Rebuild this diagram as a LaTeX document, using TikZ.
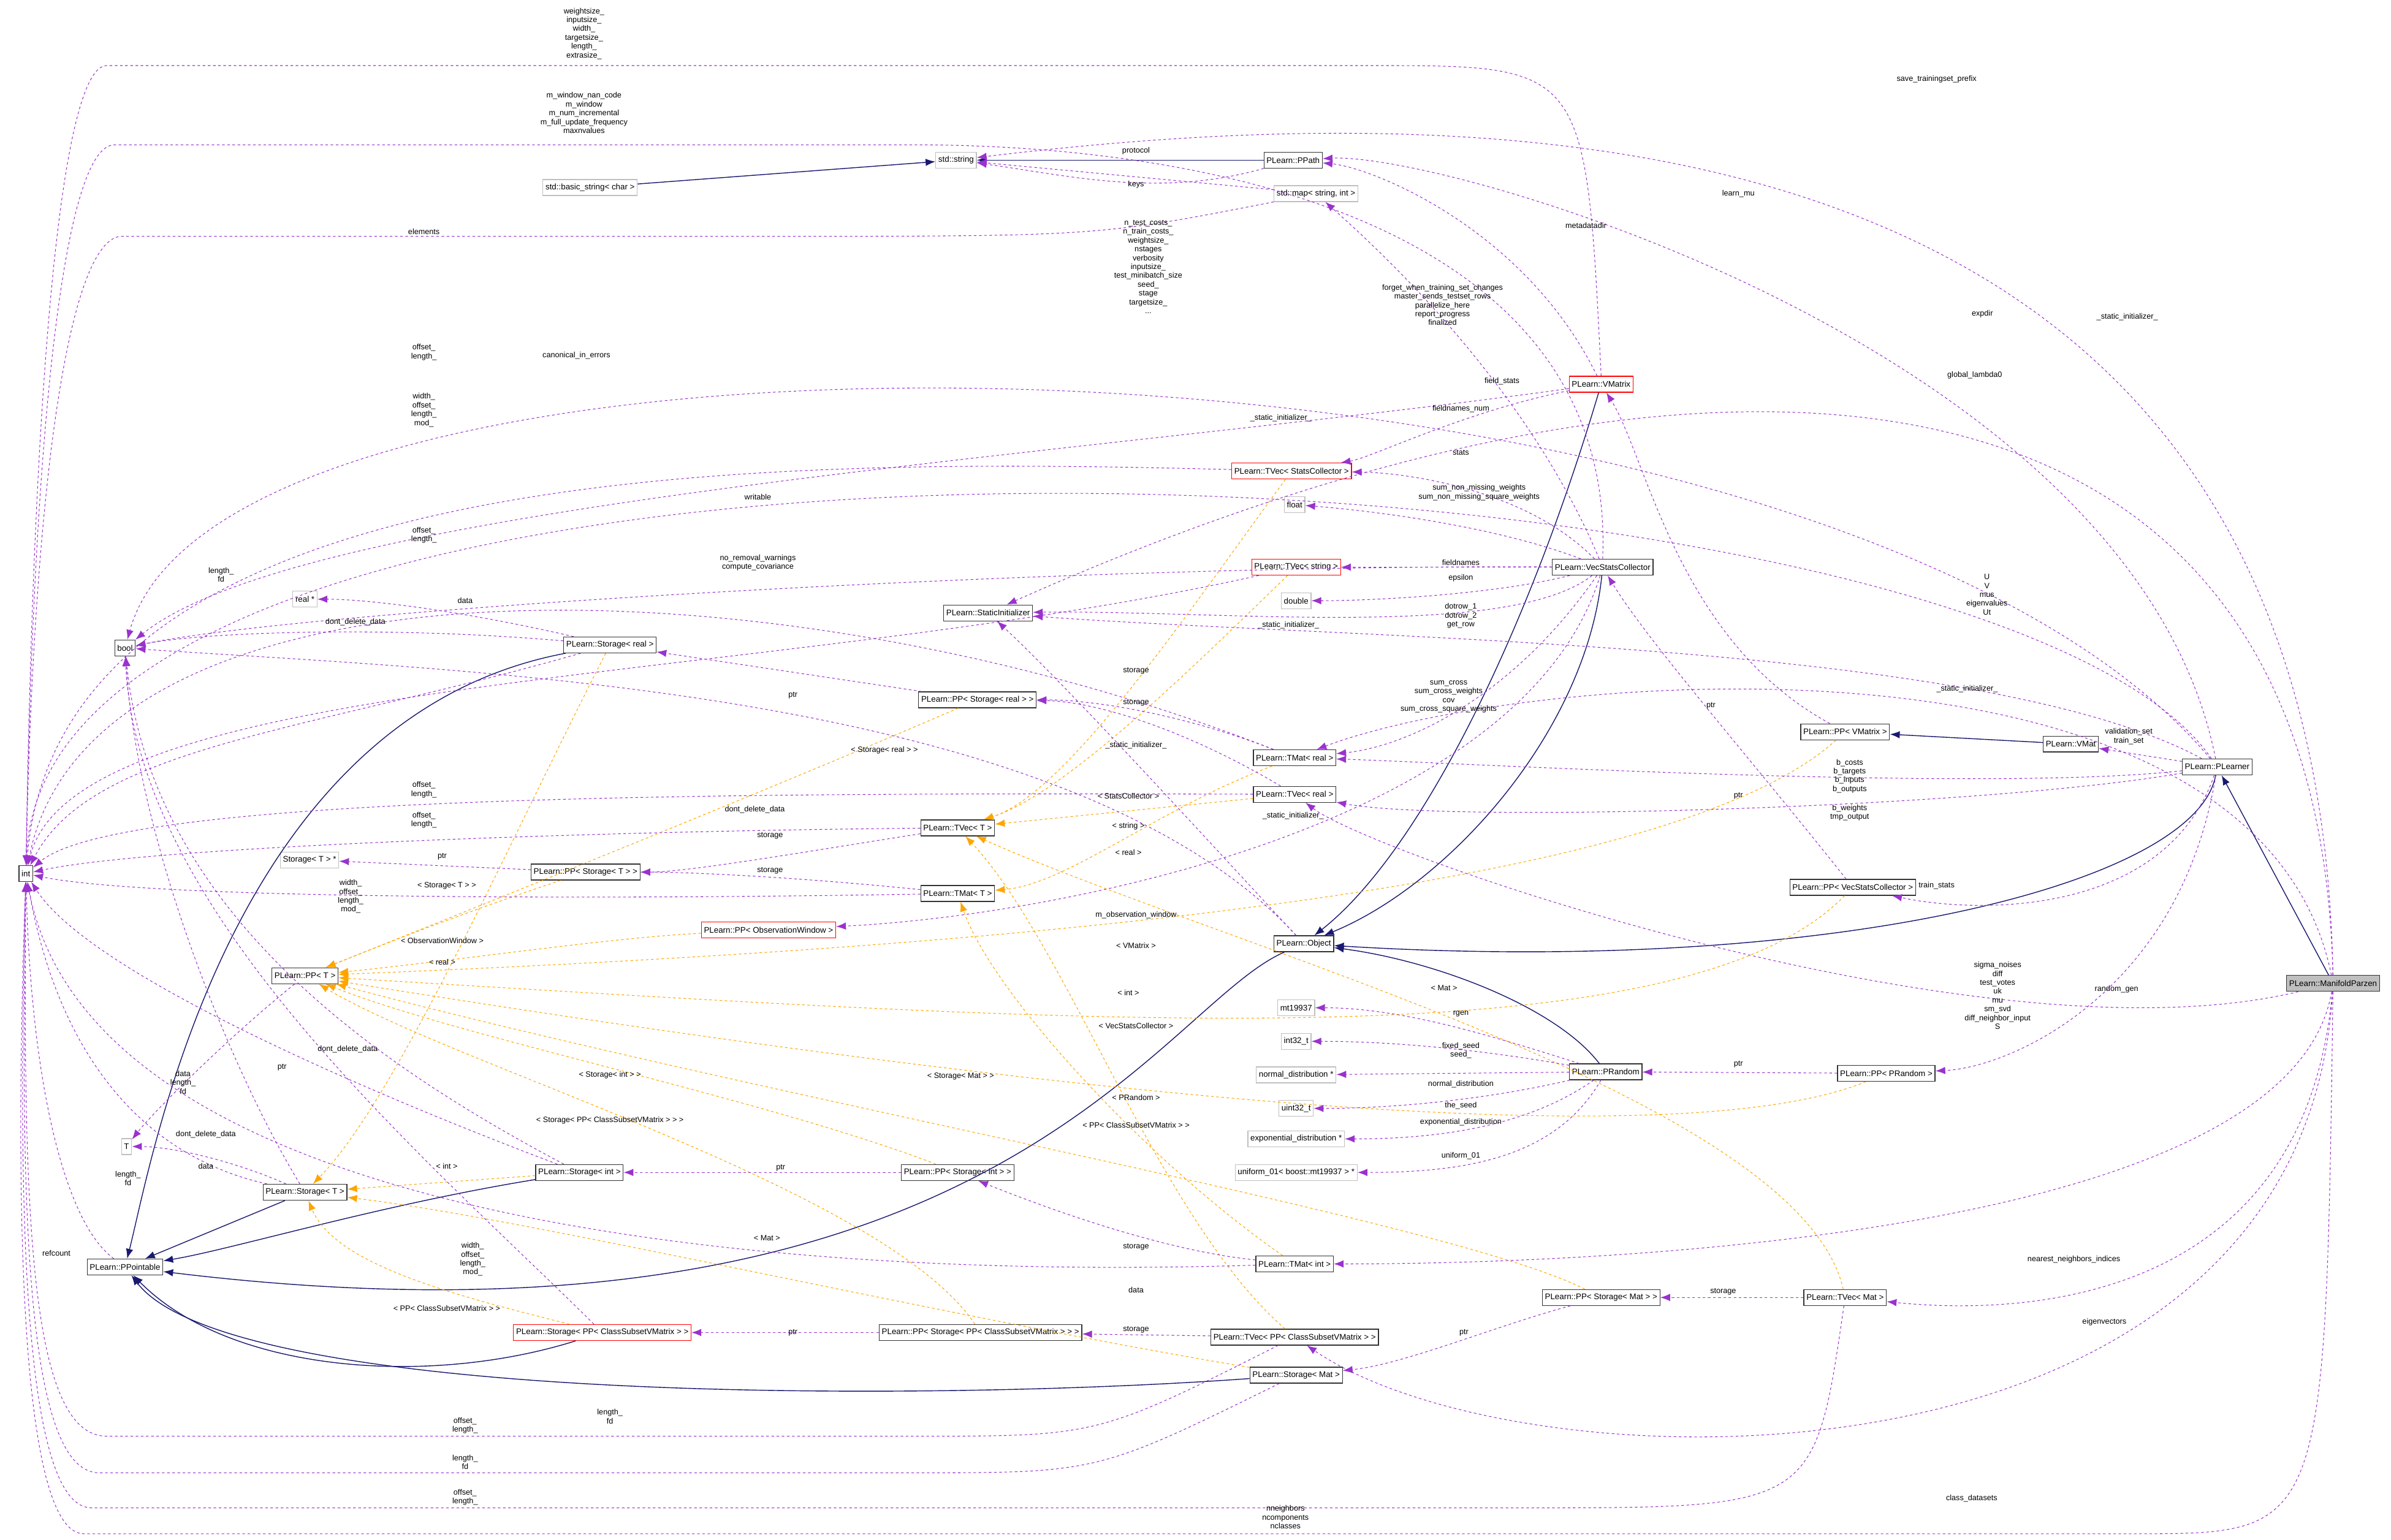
\documentclass[tikz,border=0pt]{standalone}
\usepackage{fontspec}
\setmainfont{Liberation Sans}
\usetikzlibrary{arrows.meta}
\definecolor{usecol}{HTML}{9A32CD}
\definecolor{tplcol}{HTML}{FFA500}
\definecolor{inhcol}{HTML}{191970}
\tikzset{
  box/.style={draw=black!80, line width=0.35pt, rectangle, inner sep=1.2pt, minimum height=0.26cm, font=\fontsize{3.8}{4.2}\selectfont},
  extbox/.style={box, draw=black!25},
  redbox/.style={box, draw=red},
  mainbox/.style={box, fill=black!25},
  lbl/.style={font=\fontsize{3.6}{4.1}\selectfont, align=center, inner sep=0pt},
  inh/.style={draw=inhcol, line width=0.4pt, -{Latex[length=1.6mm,width=1.2mm]}},
  use/.style={draw=usecol, line width=0.3pt, dashed, dash pattern=on 1.2pt off 1.2pt, -{Latex[length=1.6mm,width=1.2mm]}},
  tpl/.style={draw=tplcol, line width=0.3pt, dashed, dash pattern=on 1.2pt off 1.2pt, -{Latex[length=1.6mm,width=1.2mm]}}
}
\begin{document}
\begin{tikzpicture}[x=0.02488cm, y=-0.02488cm]
\useasboundingbox (0,0) rectangle (1568,1010);

% left column
\node (int) [box] at (17,573) {int};
\node (bool) [box] at (82,425) {bool};
\node (realp) [extbox] at (200,393) {real *};
\node (tt) [extbox] at (83,752) {T};
\node (storTp) [extbox] at (203,564) {Storage< T > *};
\node (ppT) [box] at (200,640) {PLearn::PP< T >};
\node (storT) [box] at (200,782) {PLearn::Storage< T >};
\node (ppoint) [box] at (82,831) {PLearn::PPointable};

% strings and maps
\node (str) [extbox] at (627,105) {std::string};
\node (bstr) [extbox] at (387,123) {std::basic\_string< char >};
\node (ppath) [box] at (848,105) {PLearn::PPath};
\node (map) [extbox] at (863,127) {std::map< string, int >};

% middle column
\node (statinit) [box] at (648,402) {PLearn::StaticInitializer};
\node (storreal) [box] at (400,423) {PLearn::Storage< real >};
\node (ppstorreal) [box] at (641,459) {PLearn::PP< Storage< real > >};
\node (tvecT) [box] at (628,543) {PLearn::TVec< T >};
\node (ppstorT) [box] at (384,572) {PLearn::PP< Storage< T > >};
\node (tmatT) [box] at (628,586) {PLearn::TMat< T >};
\node (ppobs) [redbox] at (504,610) {PLearn::PP< ObservationWindow >};
\node (storint) [box] at (380,769) {PLearn::Storage< int >};
\node (ppstorint) [box] at (628,769) {PLearn::PP< Storage< int > >};
\node (storcsv) [redbox] at (395,874) {PLearn::Storage< PP< ClassSubsetVMatrix > >};
\node (ppstorcsv) [box] at (643,874) {PLearn::PP< Storage< PP< ClassSubsetVMatrix > > >};

% right-middle column
\node (tvecsc) [redbox] at (847,309) {PLearn::TVec< StatsCollector >};
\node (float) [extbox] at (849,331) {float};
\node (tvecstr) [redbox] at (850,372) {PLearn::TVec< string >};
\node (double) [extbox] at (850,394) {double};
\node (tmatreal) [box] at (849,497) {PLearn::TMat< real >};
\node (tvecreal) [box] at (849,521) {PLearn::TVec< real >};
\node (object) [box] at (855,619) {PLearn::Object};
\node (mt) [extbox] at (850,661) {mt19937};
\node (i32) [extbox] at (850,683) {int32\_t};
\node (normd) [extbox] at (850,705) {normal\_distribution *};
\node (u32) [extbox] at (850,727) {uint32\_t};
\node (expd) [extbox] at (850,747) {exponential\_distribution *};
\node (unif) [extbox] at (850,769) {uniform\_01< boost::mt19937 > *};
\node (tmatint) [box] at (849,829) {PLearn::TMat< int >};
\node (tveccsv) [box] at (849,877) {PLearn::TVec< PP< ClassSubsetVMatrix > >};
\node (stormat) [box] at (850,902) {PLearn::Storage< Mat >};

% right columns
\node (vmatrix) [redbox] at (1050,252) {PLearn::VMatrix};
\node (vsc) [box] at (1051,372) {PLearn::VecStatsCollector};
\node (prandom) [box] at (1053,703) {PLearn::PRandom};
\node (ppstormat) [box] at (1050,851) {PLearn::PP< Storage< Mat > >};
\node (ppvm) [box] at (1210,480) {PLearn::PP< VMatrix >};
\node (ppvsc) [box] at (1215,582) {PLearn::PP< VecStatsCollector >};
\node (pprand) [box] at (1237,704) {PLearn::PP< PRandom >};
\node (tvecmat) [box] at (1210,851) {PLearn::TVec< Mat >};
\node (vmat) [box] at (1358,488) {PLearn::VMat};
\node (plearner) [box] at (1454,503) {PLearn::PLearner};
\node (mparzen) [mainbox] at (1530,645) {PLearn::ManifoldParzen};

% inheritance
\draw[inh] (bstr) -- (str);
\draw[inh] (ppath) -- (str);
\draw[inh] (vmatrix) .. controls (1000,420) and (930,560) .. (object);
\draw[inh] (vsc) .. controls (1040,480) and (950,580) .. (object);
\draw[inh] (plearner) .. controls (1440,580) and (1200,640) .. (object);
\draw[inh] (prandom) .. controls (1020,660) and (940,630) .. (object);
\draw[inh] (mparzen) -- (plearner);
\draw[inh] (vmat) -- (ppvm);
\draw[inh] (storreal) .. controls (150,470) and (100,760) .. (ppoint);
\draw[inh] (storint) .. controls (250,790) and (150,820) .. (ppoint);
\draw[inh] (storT) -- (ppoint);
\draw[inh] (storcsv) .. controls (280,910) and (150,900) .. (ppoint);
\draw[inh] (stormat) .. controls (600,920) and (150,920) .. (ppoint);
\draw[inh] (object) .. controls (760,660) and (650,900) .. (ppoint);

% template instances
\draw[tpl] (storreal) .. controls (330,560) and (260,720) .. (storT);
\draw[tpl] (ppstorreal) .. controls (500,520) and (300,600) .. (ppT);
\draw[tpl] (tvecsc) .. controls (780,400) and (700,520) .. (tvecT);
\draw[tpl] (tvecstr) .. controls (790,430) and (700,520) .. (tvecT);
\draw[tpl] (tvecreal) -- (tvecT);
\draw[tpl] (tmatreal) .. controls (760,530) and (700,580) .. (tmatT);
\draw[tpl] (ppstorT) .. controls (300,600) and (250,620) .. (ppT);
\draw[tpl] (ppobs) .. controls (400,615) and (300,630) .. (ppT);
\draw[tpl] (ppvm) .. controls (1100,580) and (700,620) .. (ppT);
\draw[tpl] (ppvsc) .. controls (1100,700) and (700,670) .. (ppT);
\draw[tpl] (pprand) .. controls (1100,760) and (700,720) .. (ppT);
\draw[tpl] (storint) -- (storT);
\draw[tpl] (ppstorint) .. controls (500,720) and (300,680) .. (ppT);
\draw[tpl] (tmatint) .. controls (750,760) and (650,650) .. (tmatT);
\draw[tpl] (ppstorcsv) .. controls (580,780) and (300,700) .. (ppT);
\draw[tpl] (storcsv) .. controls (300,850) and (220,830) .. (storT);
\draw[tpl] (tveccsv) .. controls (760,800) and (700,620) .. (tvecT);
\draw[tpl] (stormat) .. controls (600,860) and (350,800) .. (storT);
\draw[tpl] (ppstormat) .. controls (950,800) and (500,720) .. (ppT);
\draw[tpl] (tvecmat) .. controls (1180,720) and (800,620) .. (tvecT);

% usage
\draw[use] (map) -- (str);
\draw[use] (ppath) .. controls (760,130) and (700,115) .. (str);
\draw[use] (vmatrix) .. controls (1000,150) and (900,110) .. (ppath);
\draw[use] (vsc) .. controls (1000,250) and (900,160) .. (map);
\draw[use] (vmatrix) .. controls (960,270) and (900,300) .. (tvecsc);
\draw[use] (vsc) .. controls (1000,320) and (920,310) .. (tvecsc);
\draw[use] (vsc) .. controls (980,345) and (900,335) .. (float);
\draw[use] (vsc) -- (tvecstr);
\draw[use] (vsc) .. controls (980,390) and (900,394) .. (double);
\draw[use] (vsc) .. controls (990,420) and (800,400) .. (statinit);
\draw[use] (vsc) .. controls (990,460) and (920,490) .. (tmatreal);
\draw[use] (vsc) .. controls (1000,540) and (700,600) .. (ppobs);
\draw[use] (object) .. controls (800,560) and (700,450) .. (statinit);
\draw[use] (mparzen) .. controls (1520,200) and (1100,200) .. (statinit);
\draw[use] (plearner) .. controls (1300,420) and (900,420) .. (statinit);
\draw[use] (mparzen) .. controls (1520,70) and (1000,60) .. (str);
\draw[use] (plearner) .. controls (1400,230) and (950,100) .. (ppath);
\draw[use] (mparzen) .. controls (1480,400) and (1000,440) .. (tmatreal);
\draw[use] (plearner) .. controls (1300,520) and (950,500) .. (tmatreal);
\draw[use] (plearner) .. controls (1300,530) and (950,540) .. (tvecreal);
\draw[use] (mparzen) .. controls (1300,700) and (900,560) .. (tvecreal);
\draw[use] (plearner) -- (vmat);
\draw[use] (ppvm) .. controls (1100,420) and (1080,300) .. (vmatrix);
\draw[use] (plearner) .. controls (1420,600) and (1300,600) .. (ppvsc);
\draw[use] (ppvsc) .. controls (1150,500) and (1080,420) .. (vsc);
\draw[use] (plearner) .. controls (1430,650) and (1320,700) .. (pprand);
\draw[use] (pprand) -- (prandom);
\draw[use] (prandom) .. controls (980,680) and (920,661) .. (mt);
\draw[use] (prandom) .. controls (980,690) and (920,683) .. (i32);
\draw[use] (prandom) -- (normd);
\draw[use] (prandom) .. controls (980,720) and (920,727) .. (u32);
\draw[use] (prandom) .. controls (1000,740) and (940,747) .. (expd);
\draw[use] (prandom) .. controls (1020,760) and (960,769) .. (unif);
\draw[use] (mparzen) .. controls (1500,820) and (1000,829) .. (tmatint);
\draw[use] (mparzen) .. controls (1510,870) and (1300,860) .. (tvecmat);
\draw[use] (mparzen) .. controls (1510,990) and (1000,980) .. (tveccsv);
\draw[use] (tvecmat) -- (ppstormat);
\draw[use] (ppstormat) .. controls (980,870) and (920,895) .. (stormat);
\draw[use] (tveccsv) -- (ppstorcsv);
\draw[use] (ppstorcsv) -- (storcsv);
\draw[use] (tmatint) .. controls (760,820) and (680,790) .. (ppstorint);
\draw[use] (ppstorint) -- (storint);
\draw[use] (tmatreal) .. controls (780,470) and (720,459) .. (ppstorreal);
\draw[use] (tvecreal) .. controls (780,480) and (720,460) .. (ppstorreal);
\draw[use] (ppstorreal) -- (storreal);
\draw[use] (storreal) .. controls (300,400) and (240,393) .. (realp);
\draw[use] (storreal) .. controls (250,410) and (130,415) .. (bool);
\draw[use] (tvecT) .. controls (520,560) and (450,572) .. (ppstorT);
\draw[use] (tmatT) .. controls (520,575) and (450,572) .. (ppstorT);
\draw[use] (ppstorT) -- (storTp);
\draw[use] (ppT) .. controls (150,680) and (100,730) .. (tt);
\draw[use] (storT) .. controls (150,760) and (110,752) .. (tt);
\draw[use] (storT) .. controls (150,700) and (90,550) .. (bool);
\draw[use] (storint) .. controls (250,700) and (100,600) .. (bool);
\draw[use] (storcsv) .. controls (280,760) and (90,600) .. (bool);
\draw[use] (object) .. controls (700,450) and (300,440) .. (bool);
\draw[use] (vmatrix) .. controls (700,300) and (200,330) .. (bool);
\draw[use] (vsc) .. controls (700,370) and (200,400) .. (bool);
\draw[use] (plearner) .. controls (1200,200) and (150,180) .. (bool);
% edges to int
\draw[use] (vmatrix.north) .. controls (1040,43) .. (900,43) -- (70,43) .. controls (40,43) and (22,250) .. (int);
\draw[use] (vsc.north) .. controls (1060,150) and (800,95) .. (600,95) -- (75,95) .. controls (42,95) and (22,280) .. (int);
\draw[use] (map) .. controls (720,155) .. (500,155) -- (80,155) .. controls (45,155) and (22,320) .. (int);
\draw[use] (plearner) .. controls (1300,280) and (30,230) .. (int);
\draw[use] (tvecsc) .. controls (500,300) and (40,300) .. (int);
\draw[use] (tmatreal) .. controls (500,360) and (60,360) .. (int);
\draw[use] (tvecstr) .. controls (500,450) and (50,440) .. (int);
\draw[use] (storreal) .. controls (200,480) and (60,490) .. (int);
\draw[use] (tvecreal) .. controls (500,520) and (80,520) .. (int);
\draw[use] (tvecT) .. controls (400,545) and (100,555) .. (int);
\draw[use] (tmatT) .. controls (400,590) and (100,590) .. (int);
\draw[use] (storT) .. controls (100,760) and (40,700) .. (int);
\draw[use] (storint) .. controls (250,720) and (60,640) .. (int);
\draw[use] (tmatint) .. controls (500,840) and (60,800) .. (int);
\draw[use] (ppoint) .. controls (40,800) and (20,700) .. (int);
\draw[use] (tveccsv) .. controls (720,942) .. (600,942) -- (70,942) .. controls (20,942) and (15,800) .. (int);
\draw[use] (stormat) .. controls (720,966) .. (600,966) -- (65,966) .. controls (18,966) and (13,800) .. (int);
\draw[use] (tvecmat) .. controls (1190,989) .. (1000,989) -- (60,989) .. controls (16,989) and (11,800) .. (int);
\draw[use] (mparzen) .. controls (1525,1006) .. (1400,1006) -- (55,1006) .. controls (14,1006) and (9,800) .. (int);

% labels
\node (l1) [lbl] at (383,22) {weightsize\_\\inputsize\_\\width\_\\targetsize\_\\length\_\\extrasize\_};
\node (l2) [lbl] at (383,74) {m\_window\_nan\_code\\m\_window\\m\_num\_incremental\\m\_full\_update\_frequency\\maxnvalues};
\node (l3) [lbl] at (278,152) {elements};
\node (l4) [lbl] at (278,231) {offset\_\\length\_};
\node (l5) [lbl] at (378,233) {canonical\_in\_errors};
\node (l6) [lbl] at (278,269) {width\_\\offset\_\\length\_\\mod\_};
\node (l7) [lbl] at (497,326) {writable};
\node (l8) [lbl] at (278,351) {offset\_\\length\_};
\node (l9) [lbl] at (497,369) {no\_removal\_warnings\\compute\_covariance};
\node (l10) [lbl] at (145,377) {length\_\\fd};
\node (l11) [lbl] at (745,99) {protocol};
\node (l12) [lbl] at (745,121) {keys};
\node (l13) [lbl] at (1270,52) {save\_trainingset\_prefix};
\node (l14) [lbl] at (1140,127) {learn\_mu};
\node (l15) [lbl] at (1040,148) {metadatadir};
\node (l16) [lbl] at (753,175) {n\_test\_costs\_\\n\_train\_costs\_\\weightsize\_\\nstages\\verbosity\\inputsize\_\\test\_minibatch\_size\\seed\_\\stage\\targetsize\_\\...};
\node (l17) [lbl] at (946,200) {forget\_when\_training\_set\_changes\\master\_sends\_testset\_rows\\parallelize\_here\\report\_progress\\finalized};
\node (l18) [lbl] at (1395,208) {\_static\_initializer\_};
\node (l19) [lbl] at (1300,206) {expdir};
\node (l20) [lbl] at (1295,246) {global\_lambda0};
\node (l21) [lbl] at (985,250) {field\_stats};
\node (l22) [lbl] at (840,274) {\_static\_initializer\_};
\node (l23) [lbl] at (958,268) {fieldnames\_num};
\node (l24) [lbl] at (958,297) {stats};
\node (l25) [lbl] at (970,323) {sum\_non\_missing\_weights\\sum\_non\_missing\_square\_weights};
\node (l26) [lbl] at (958,369) {fieldnames};
\node (l27) [lbl] at (958,379) {epsilon};
\node (l28) [lbl] at (845,410) {\_static\_initializer\_};
\node (l29) [lbl] at (958,404) {dotrow\_1\\dotrow\_2\\get\_row};
\node (l30) [lbl] at (1303,390) {U\\V\\mus\\eigenvalues\\Ut};
\node (l31) [lbl] at (1290,452) {\_static\_initializer\_};
\node (l32) [lbl] at (950,457) {sum\_cross\\sum\_cross\_weights\\cov\\sum\_cross\_square\_weights};
\node (l33) [lbl] at (1122,463) {ptr};
\node (l34) [lbl] at (1140,522) {ptr};
\node (l35) [lbl] at (1396,483) {validation\_set\\train\_set};
\node (l36) [lbl] at (1213,509) {b\_costs\\b\_targets\\b\_inputs\\b\_outputs};
\node (l37) [lbl] at (1213,533) {b\_weights\\tmp\_output};
\node (l38) [lbl] at (1270,581) {train\_stats};
\node (l39) [lbl] at (1310,653) {sigma\_noises\\diff\\test\_votes\\uk\\mu\\sm\_svd\\diff\_neighbor\_input\\S};
\node (l40) [lbl] at (1388,649) {random\_gen};
\node (l41) [lbl] at (1140,698) {ptr};
\node (l42) [lbl] at (958,665) {rgen};
\node (l43) [lbl] at (958,689) {fixed\_seed\\seed\_};
\node (l44) [lbl] at (958,711) {normal\_distribution};
\node (l45) [lbl] at (958,725) {the\_seed};
\node (l46) [lbl] at (958,736) {exponential\_distribution};
\node (l47) [lbl] at (958,758) {uniform\_01};
\node (l48) [lbl] at (1360,826) {nearest\_neighbors\_indices};
\node (l49) [lbl] at (1380,867) {eigenvectors};
\node (l50) [lbl] at (1130,847) {storage};
\node (l51) [lbl] at (960,874) {ptr};
\node (l52) [lbl] at (745,872) {storage};
\node (l53) [lbl] at (520,874) {ptr};
\node (l54) [lbl] at (745,846) {data};
\node (l55) [lbl] at (745,818) {storage};
\node (l56) [lbl] at (512,766) {ptr};
\node (l57) [lbl] at (745,461) {storage};
\node (l58) [lbl] at (745,440) {storage};
\node (l59) [lbl] at (520,456) {ptr};
\node (l60) [lbl] at (305,394) {data};
\node (l61) [lbl] at (233,408) {dont\_delete\_data};
\node (l62) [lbl] at (505,548) {storage};
\node (l63) [lbl] at (505,571) {storage};
\node (l64) [lbl] at (290,562) {ptr};
\node (l65) [lbl] at (185,700) {ptr};
\node (l66) [lbl] at (135,765) {data};
\node (l67) [lbl] at (135,744) {dont\_delete\_data};
\node (l68) [lbl] at (228,688) {dont\_delete\_data};
\node (l69) [lbl] at (120,710) {data\\length\_\\fd};
\node (l70) [lbl] at (37,822) {refcount};
\node (l71) [lbl] at (84,773) {length\_\\fd};
\node (l72) [lbl] at (310,826) {width\_\\offset\_\\length\_\\mod\_};
\node (l73) [lbl] at (495,531) {dont\_delete\_data};
\node (l74) [lbl] at (278,518) {offset\_\\length\_};
\node (l75) [lbl] at (278,538) {offset\_\\length\_};
\node (l76) [lbl] at (230,588) {width\_\\offset\_\\length\_\\mod\_};
\node (l77) [lbl] at (400,929) {length\_\\fd};
\node (l78) [lbl] at (305,935) {offset\_\\length\_};
\node (l79) [lbl] at (305,959) {length\_\\fd};
\node (l80) [lbl] at (305,982) {offset\_\\length\_};
\node (l81) [lbl] at (843,995) {nneighbors\\ncomponents\\nclasses};
\node (l82) [lbl] at (1293,983) {class\_datasets};
\node (l83) [lbl] at (580,492) {< Storage< real > >};
\node (l84) [lbl] at (740,522) {< StatsCollector >};
\node (l85) [lbl] at (740,542) {< string >};
\node (l86) [lbl] at (740,559) {< real >};
\node (l87) [lbl] at (745,489) {\_static\_initializer\_};
\node (l88) [lbl] at (848,535) {\_static\_initializer\_};
\node (l89) [lbl] at (293,581) {< Storage< T > >};
\node (l90) [lbl] at (745,600) {m\_observation\_window};
\node (l91) [lbl] at (745,620) {< VMatrix >};
\node (l92) [lbl] at (290,617) {< ObservationWindow >};
\node (l93) [lbl] at (290,631) {< real >};
\node (l94) [lbl] at (947,648) {< Mat >};
\node (l95) [lbl] at (740,651) {< int >};
\node (l96) [lbl] at (745,673) {< VecStatsCollector >};
\node (l97) [lbl] at (745,720) {< PRandom >};
\node (l98) [lbl] at (745,738) {< PP< ClassSubsetVMatrix > >};
\node (l99) [lbl] at (630,706) {< Storage< Mat > >};
\node (l100) [lbl] at (400,735) {< Storage< PP< ClassSubsetVMatrix > > >};
\node (l101) [lbl] at (400,705) {< Storage< int > >};
\node (l102) [lbl] at (293,765) {< int >};
\node (l103) [lbl] at (503,812) {< Mat >};
\node (l104) [lbl] at (293,858) {< PP< ClassSubsetVMatrix > >};
\end{tikzpicture}
\end{document}
